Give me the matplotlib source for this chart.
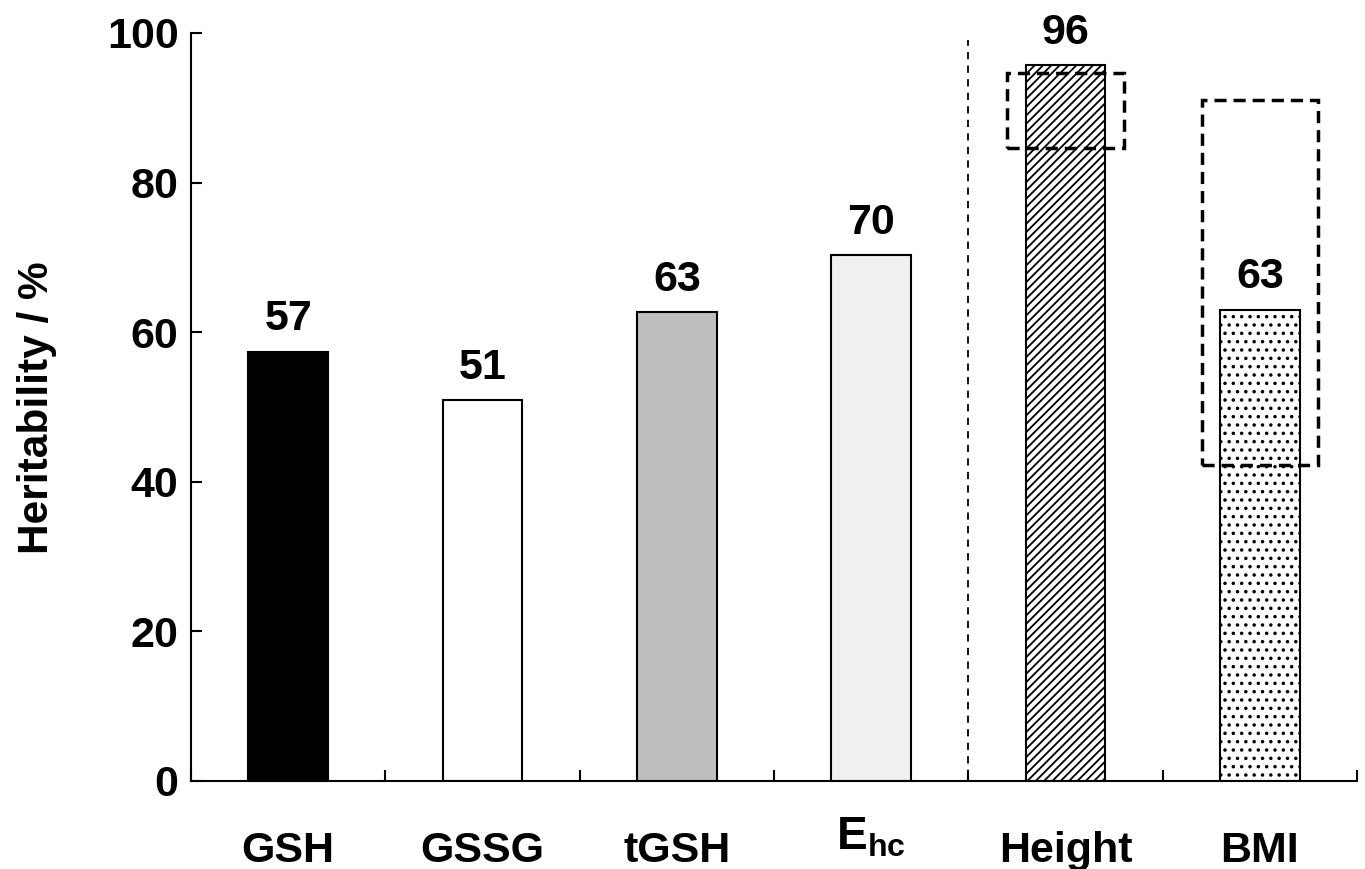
import matplotlib.pyplot as plt
from matplotlib.patches import Rectangle
from matplotlib.transforms import blended_transform_factory

plt.rcParams['font.family'] = ['Liberation Sans', 'DejaVu Sans']
plt.rcParams['font.weight'] = 'bold'
plt.rcParams['mathtext.fontset'] = 'custom'
plt.rcParams['mathtext.bf'] = 'Liberation Sans:bold'
plt.rcParams['mathtext.rm'] = 'Liberation Sans:bold'
plt.rcParams['hatch.linewidth'] = 1.3

# data
categories = ['GSH', 'GSSG', 'tGSH', r'$\mathbf{E_{hc}}$', 'Height', 'BMI']
values = [57.4, 50.9, 62.7, 70.3, 95.7, 63.0]
value_labels = ['57', '51', '63', '70', '96', '63']
colors = ['black', 'white', '#bebebe', '#f0f0f0', 'white', 'white']
hatches = [None, None, None, None, '////', '..']
# literature ranges shown as dashed boxes (category index, low, high)
range_idx = [4, 5]
range_low = [84.6, 42.2]
range_high = [94.7, 91.0]

fig = plt.figure(figsize=(13.65, 8.69), dpi=100)
ax = fig.add_axes([191 / 1365, 88 / 869, 1166 / 1365, 748 / 869])

x = list(range(len(categories)))
bars = ax.bar(x, values, width=0.41, color=colors, edgecolor='black',
              linewidth=1.5, zorder=2)
for b, h in zip(bars, hatches):
    if h:
        b.set_hatch(h)

for i, v, lab in zip(x, values, value_labels):
    ax.annotate(lab, xy=(i, v), xytext=(0, 9), textcoords='offset points',
                ha='center', va='bottom', fontsize=31, fontweight='bold')

for i, lo, hi in zip(range_idx, range_low, range_high):
    ax.add_patch(Rectangle((i - 0.3, lo), 0.6, hi - lo, fill=False,
                           linestyle=(0, (3.5, 2)), linewidth=2.5,
                           edgecolor='black', zorder=3))

# separator between glutathione measures and anthropometrics
ax.plot([3.5, 3.5], [0.5, 99], color='black', linewidth=1.3,
        linestyle=(0, (4, 3.5)), zorder=1)

ax.set_xlim(-0.5, len(categories) - 0.5)
ax.set_ylim(0, 100)
ax.set_yticks(range(0, 101, 20))
ax.set_xticks([i - 0.5 for i in range(len(categories) + 1)])
ax.set_xticklabels([])
ax.tick_params(axis='both', direction='in', length=8, width=1.5)
ax.tick_params(axis='y', labelsize=31, pad=9)
for t in ax.get_yticklabels():
    t.set_fontweight('bold')

for s in ['top', 'right']:
    ax.spines[s].set_visible(False)
for s in ['left', 'bottom']:
    ax.spines[s].set_linewidth(1.5)

trans = blended_transform_factory(ax.transData, ax.transAxes)
for i, c in zip(x, categories):
    if 'E_' in c:
        ax.annotate(c, xy=(i, 0), xycoords=trans, xytext=(0, -49),
                    textcoords='offset points', ha='center', va='baseline',
                    fontsize=33, fontweight='bold', annotation_clip=False)
    else:
        ax.annotate(c, xy=(i, 0), xycoords=trans, xytext=(0, -58),
                    textcoords='offset points', ha='center', va='baseline',
                    fontsize=31, fontweight='bold', annotation_clip=False)

fig.text(37 / 1365, 1 - 408 / 869, 'Heritability / %', rotation=90,
         ha='center', va='center', fontsize=30.5, fontweight='bold')

fig.savefig('out.png', dpi=100)
